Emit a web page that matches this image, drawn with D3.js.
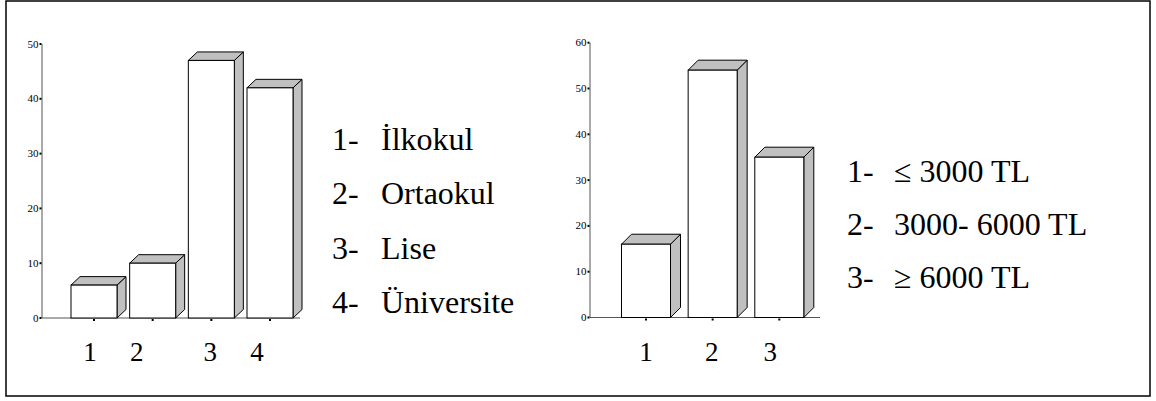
<!DOCTYPE html>
<html><head><meta charset="utf-8">
<script src="https://cdn.jsdelivr.net/npm/d3@7"></script>
</head><body style="margin:0">
<svg id="c" width="1156" height="401" font-family="Liberation Serif"></svg>
<script>
// Data
const eduCategories = ["1", "2", "3", "4"];
const eduValues = [6, 10, 47, 42];
const eduTicks = [0, 10, 20, 30, 40, 50];
const eduLegend = ["1-", "2-", "3-", "4-"];
const eduLegendNames = ["İlkokul", "Ortaokul", "Lise", "Üniversite"];

const incCategories = ["1", "2", "3"];
const incValues = [16, 54, 35];
const incTicks = [0, 10, 20, 30, 40, 50, 60];
const incLegend = ["1-", "2-", "3-"];
const incLegendNames = ["≤ 3000 TL", "3000- 6000 TL", "≥ 6000 TL"];

const svg = d3.select("#c");
const FONT = "Liberation Serif";

// frame
svg.append("rect").attr("x", 6).attr("y", 1).attr("width", 1144).attr("height", 395)
  .attr("fill", "none").attr("stroke", "#000").attr("stroke-width", 1.5);

function txt(sel, size) {
  return sel.attr("font-family", FONT).style("font-family", FONT).attr("font-size", size).attr("fill", "#000");
}

function drawChart(cfg) {
  const g = svg.append("g");
  const y = d3.scaleLinear().domain([0, cfg.max]).range([cfg.y0, cfg.yTop]);
  const x = d3.scalePoint().domain(cfg.cats).range(cfg.xRange);

  g.append("line").attr("x1", cfg.ax).attr("x2", cfg.ax).attr("y1", y(cfg.max)).attr("y2", y(0))
    .attr("stroke", "#555").attr("stroke-width", 1);
  g.append("line").attr("x1", cfg.ax).attr("x2", cfg.axEnd).attr("y1", y(0)).attr("y2", y(0))
    .attr("stroke", "#555").attr("stroke-width", 1);

  g.selectAll(".ytm").data(cfg.ticks).enter().append("rect")
    .attr("x", cfg.ax - 2.5).attr("y", d => y(d) - 1).attr("width", 2).attr("height", 2).attr("fill", "#000");
  txt(g.selectAll(".ytl").data(cfg.ticks).enter().append("text")
    .attr("x", cfg.ax - 3.5).attr("y", d => y(d) + 3.5).attr("text-anchor", "end"), 11).text(d => d);

  g.selectAll(".xt").data(cfg.cats).enter().append("rect")
    .attr("x", d => x(d) - 1).attr("y", y(0) + 1).attr("width", 2).attr("height", 2).attr("fill", "#000");
  txt(g.selectAll(".xl").data(cfg.cats).enter().append("text")
    .attr("x", (d, i) => x(d) + cfg.labelShift[i]).attr("y", cfg.labelY).attr("text-anchor", "middle"), 27).text(d => d);

  const w = cfg.barW, dx = cfg.dx, dy = cfg.dy;
  g.selectAll(".bar").data(cfg.values).enter().append("g").each(function (v, i) {
    const b = d3.select(this);
    const xl = x(cfg.cats[i]) - w / 2, xr = xl + w, yt = y(v), yb = y(0);
    b.append("polygon").attr("points", [[xr, yt], [xr + dx, yt - dy], [xr + dx, yb - dy], [xr, yb]].join(" "))
      .attr("fill", "#c0c0c0").attr("stroke", "#000").attr("stroke-width", 1).attr("stroke-linejoin", "round");
    b.append("polygon").attr("points", [[xl, yt], [xl + dx, yt - dy], [xr + dx, yt - dy], [xr, yt]].join(" "))
      .attr("fill", "#c0c0c0").attr("stroke", "#000").attr("stroke-width", 1).attr("stroke-linejoin", "round");
    b.append("rect").attr("x", xl).attr("y", yt).attr("width", w).attr("height", yb - yt)
      .attr("fill", "#fff").attr("stroke", "#000").attr("stroke-width", 1);
  });

  txt(g.selectAll(".lgn").data(cfg.legend).enter().append("text")
    .attr("x", cfg.legX).attr("y", (d, i) => cfg.legY + i * cfg.legStep), 32).text(d => d);
  txt(g.selectAll(".lgt").data(cfg.names).enter().append("text")
    .attr("x", cfg.legX2).attr("y", (d, i) => cfg.legY + i * cfg.legStep), 32).text(d => d);
}

drawChart({
  cats: eduCategories, values: eduValues, ticks: eduTicks, max: 50,
  y0: 318, yTop: 44, xRange: [94, 270], ax: 42, axEnd: 300,
  barW: 46, dx: 9, dy: 8.5, labelY: 361, labelShift: [-4, -16, -1, -13],
  legend: eduLegend, names: eduLegendNames, legX: 332, legX2: 381, legY: 150, legStep: 54.4
});
drawChart({
  cats: incCategories, values: incValues, ticks: incTicks, max: 60,
  y0: 317.5, yTop: 42.7, xRange: [646, 779.3], ax: 590, axEnd: 820,
  barW: 49, dx: 10, dy: 10, labelY: 361, labelShift: [0, -1, -9],
  legend: incLegend, names: incLegendNames, legX: 847, legX2: 894, legY: 181.7, legStep: 53.2
});
</script>
</body></html>
